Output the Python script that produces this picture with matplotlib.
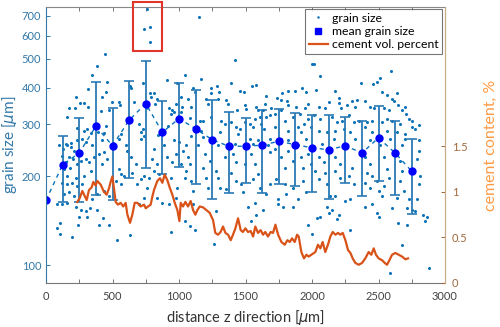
import matplotlib
matplotlib.use("Agg")
import matplotlib.pyplot as plt
from matplotlib.lines import Line2D
from matplotlib.patches import Rectangle
from matplotlib.ticker import FixedLocator, NullLocator, MultipleLocator

# grain size scatter (distance in um, grain size in um)
grain_z = [757, 739, 782, 782, 444, 1150, 1424, 2000, 2016, 2062,
           386, 343, 461, 316, 228, 256, 286, 173, 216, 318, 423, 449, 499, 549, 556, 474, 416, 156, 231, 286,
           311, 336, 393, 436, 449, 566, 629, 641, 662, 699, 732, 750, 782, 812, 787, 837, 820, 712, 737, 842,
           908, 925, 950, 938, 962, 917, 987, 975, 637, 732, 98, 148, 186, 235, 273, 298, 348, 423, 549, 599,
           511, 712, 887, 962, 1000,
           130, 160, 186, 211, 123, 173, 206, 148, 135, 180, 235, 261, 298, 323, 361, 399, 436, 461, 423, 336,
           286, 223, 160, 123, 156, 198, 231, 273, 135, 173, 211, 85, 123, 160, 223, 261, 298, 331, 248, 311,
           105, 80, 105, 198, 243, 399, 431, 474, 531, 386, 348, 386, 436, 474, 549, 562, 524, 566, 587, 611,
           637, 675, 649, 712, 687, 737, 762, 775, 812, 800, 837, 812, 850, 912, 950, 975, 938, 987, 975, 925,
           938, 632, 837, 875, 737, 699,
           1043, 1168, 1394, 1301, 1243, 1105, 1118, 1243, 1288, 1456, 1489, 1549, 1582, 1652, 1775, 1820, 1875, 1927, 1958, 1740,
           1765, 1815, 1820, 1883, 1946, 1970, 1018, 1068, 1088, 1023, 1018, 1081, 1156, 1181, 1130, 1168, 1206, 1218, 1294, 1356,
           1369, 1439, 1494, 1506, 1582, 1594, 1632, 1650, 1694, 1243, 1318, 1344, 1394, 1431, 1456, 1494, 1532, 1569, 1607, 1619,
           1657, 1682, 1720, 1770, 1795, 1857, 1908, 1940, 1970, 1995, 1557, 1639, 1720, 1820, 1895, 1920, 1306, 1444, 1532, 1594,
           1682, 1770, 1820, 1958, 1093, 1181, 1055, 1143, 1294, 1419, 1557, 1669, 1895,
           1030, 1068, 1018, 1081, 1055, 1043, 1093, 1105, 1105, 1043, 1081, 1118, 1193, 1231, 1181, 1206, 1281, 1294, 1306, 1218,
           1281, 1261, 1344, 1406, 1431, 1394, 1431, 1356, 1469, 1481, 1544, 1569, 1594, 1557, 1607, 1657, 1569, 1519, 1632, 1582,
           1544, 1682, 1720, 1770, 1795, 1820, 1857, 1920, 1933, 1970, 1995, 1732, 1795, 1807, 1857, 1895, 1933, 1958, 1745, 1857,
           1782, 1970, 1745, 1682, 1494,
           2597, 2030, 2171, 2371, 2459, 2489, 2514, 2527, 2564, 2640, 2602, 2615, 2126, 2201, 2201, 2301, 2339, 2401, 2050, 2013,
           2100, 2221, 2264, 2321, 2439, 2464, 2539, 2577, 2564, 2647, 2677, 2707, 2752, 2702, 2063, 2151, 2188, 2226, 2276, 2314,
           2352, 2414, 2452, 2527, 2602, 2665, 2727, 2752, 2803, 2778, 2050, 2113, 2176, 2239, 2289, 2401, 2452, 2564, 2640, 2702,
           2163, 2326, 2439, 2589, 2702, 2803, 2076, 2251, 2514, 2677,
           2050, 2088, 2025, 2100, 2050, 2113, 2176, 2214, 2176, 2214, 2276, 2301, 2314, 2176, 2138, 2251, 2289, 2113, 2151, 2126,
           2201, 2063, 2038, 2188, 2289, 2000, 2401, 2439, 2414, 2452, 2489, 2401, 2439, 2502, 2539, 2527, 2452, 2401, 2489, 2502,
           2539, 2564, 2577, 2665, 2677, 2665, 2690, 2640, 2602, 2727, 2715, 2752, 2778, 2803, 2790, 2815, 2803, 2790, 2833, 2865,
           2853, 2647, 2715, 2677, 2589, 2878]
grain_d = [737, 630, 642, 570, 520, 696, 494, 482, 480, 438,
           472, 442, 417, 394, 372, 355, 355, 340, 342, 344, 372, 385, 358, 358, 348, 335, 332, 318, 292, 286,
           290, 281, 282, 280, 297, 279, 404, 399, 358, 302, 413, 341, 382, 382, 372, 367, 353, 282, 275, 277,
           424, 340, 335, 326, 331, 297, 413, 353, 314, 290, 255, 258, 260, 265, 268, 262, 255, 265, 268, 255,
           255, 268, 255, 265, 262,
           248, 255, 251, 244, 235, 232, 229, 223, 212, 214, 220, 226, 229, 223, 232, 238, 241, 229, 220, 209,
           201, 198, 201, 190, 188, 190, 185, 188, 174, 177, 172, 161, 161, 163, 158, 154, 152, 156, 146, 146,
           139, 134, 128, 125, 137, 137, 144, 137, 122, 154, 167, 174, 179, 172, 212, 203, 193, 188, 201, 244,
           232, 220, 206, 196, 188, 201, 183, 198, 248, 229, 220, 209, 203, 232, 223, 238, 198, 183, 169, 161,
           130, 127, 169, 163, 169, 161,
           442, 429, 416, 387, 399, 399, 387, 382, 404, 389, 385, 404, 409, 375, 382, 389, 389, 397, 387, 369,
           362, 360, 348, 344, 340, 353, 372, 367, 344, 344, 331, 315, 309, 309, 297, 286, 367, 353, 367, 362,
           353, 335, 348, 337, 344, 335, 335, 353, 340, 317, 309, 302, 306, 294, 290, 306, 302, 314, 317, 302,
           317, 322, 326, 335, 309, 317, 326, 302, 314, 294, 294, 290, 294, 286, 294, 282, 282, 279, 268, 265,
           268, 268, 265, 268, 275, 272, 255, 255, 255, 258, 258, 255, 256,
           244, 232, 220, 220, 209, 198, 193, 179, 161, 141, 136, 132, 238, 226, 214, 198, 209, 198, 183, 183,
           152, 118, 232, 238, 223, 206, 193, 181, 188, 177, 238, 220, 203, 196, 183, 174, 163, 158, 154, 148,
           141, 241, 248, 232, 214, 244, 226, 232, 214, 238, 220, 196, 188, 174, 183, 167, 193, 177, 161, 158,
           158, 137, 167, 188, 220,
           456, 392, 389, 413, 410, 419, 430, 387, 378, 382, 367, 360, 358, 369, 355, 360, 362, 360, 344, 322,
           342, 340, 348, 344, 344, 340, 340, 335, 314, 348, 335, 326, 309, 344, 314, 317, 306, 309, 322, 306,
           309, 306, 309, 306, 309, 302, 314, 294, 299, 290, 286, 282, 286, 290, 282, 294, 282, 286, 282, 279,
           268, 268, 265, 268, 268, 265, 258, 255, 255, 256,
           232, 223, 209, 206, 196, 188, 232, 220, 209, 198, 201, 214, 188, 172, 172, 165, 167, 158, 154, 150,
           148, 146, 144, 143, 132, 128, 232, 220, 206, 201, 193, 190, 183, 179, 185, 172, 161, 158, 150, 146,
           232, 212, 198, 226, 209, 193, 179, 169, 156, 167, 156, 154, 152, 244, 229, 201, 188, 167, 148, 146,
           141, 139, 137, 117, 94, 98]

# mean grain size and standard deviation every 125 um
mean_z = [0, 125, 250, 375, 500, 625, 750, 875, 1000, 1125, 1250, 1375,
          1500, 1625, 1750, 1875, 2000, 2125, 2250, 2375, 2500, 2625, 2750]
mean_d = [166, 219, 240, 296, 254, 310, 353, 282, 314, 290, 266, 253,
          253, 255, 263, 256, 250, 246, 254, 240, 270, 240, 208]
std_d = [0, 55, 76, 123, 88, 112, 140, 78, 99, 102, 98, 78,
         63, 80, 74, 71, 73, 78, 64, 69, 77, 67, 59]

# cement volume percent (right axis)
cement_z = [235, 253, 273, 286, 306, 323, 343, 356, 373, 386, 411, 436, 456, 474, 486, 499, 511, 524, 541, 561,
            581, 599, 612, 632, 649, 667, 687, 712, 737, 750, 767, 787, 800, 812, 837, 857, 875, 892, 912, 932,
            950, 968, 988, 1003,
            1013, 1030, 1048, 1068, 1088, 1106, 1123, 1138, 1156, 1181, 1206, 1231, 1256, 1273, 1293, 1313, 1331, 1349, 1369, 1389,
            1406, 1424, 1444, 1464, 1481, 1499, 1519, 1539, 1557, 1574, 1594, 1614, 1632, 1649, 1669, 1689, 1707, 1725, 1745, 1770,
            1795, 1815, 1833, 1850, 1870, 1888, 1900, 1920, 1940, 1958, 1975, 1995,
            2025, 2045, 2063, 2080, 2100, 2120, 2138, 2156, 2176, 2196, 2213, 2231, 2251, 2271, 2289, 2306, 2326, 2351, 2376, 2401,
            2426, 2446, 2464, 2481, 2501, 2527, 2547, 2564, 2582, 2602, 2627, 2652, 2677, 2702, 2722]
cement_pct = [0.89, 0.93, 1.01, 0.97, 0.91, 1.02, 1.05, 1.11, 1.07, 1.12, 1.08, 1.00, 0.97, 1.04, 1.11, 1.17, 1.04, 0.89, 0.86, 0.88,
              0.84, 0.88, 0.75, 0.66, 0.75, 0.88, 0.88, 0.84, 0.86, 0.82, 0.84, 0.86, 0.95, 1.02, 1.12, 1.15, 1.10, 1.19, 1.13, 1.04,
              0.97, 0.88, 0.80, 0.68,
              0.88, 0.84, 0.89, 0.84, 0.90, 0.80, 0.75, 0.80, 0.84, 0.83, 0.80, 0.77, 0.69, 0.55, 0.53, 0.56, 0.62, 0.55, 0.53, 0.47,
              0.53, 0.60, 0.71, 0.58, 0.56, 0.60, 0.56, 0.57, 0.51, 0.62, 0.55, 0.58, 0.53, 0.56, 0.51, 0.56, 0.55, 0.64, 0.53, 0.45,
              0.42, 0.47, 0.45, 0.49, 0.45, 0.53, 0.51, 0.34, 0.27, 0.31, 0.29, 0.31,
              0.34, 0.42, 0.38, 0.45, 0.34, 0.42, 0.51, 0.56, 0.53, 0.55, 0.53, 0.55, 0.47, 0.36, 0.33, 0.27, 0.22, 0.20, 0.22, 0.27,
              0.34, 0.31, 0.38, 0.31, 0.27, 0.25, 0.22, 0.20, 0.25, 0.31, 0.33, 0.31, 0.29, 0.26, 0.27]

left_ticks = [100, 200, 300, 400, 500, 600, 700]
right_ticks = [0, 0.5, 1, 1.5]

plt.rcParams['font.family'] = ['Lato', 'DejaVu Sans']
plt.rcParams['mathtext.fontset'] = 'dejavusans'

blue = '#0a72b8'
left_col = '#3479a8'
right_col = '#a0683c'

fig = plt.figure(figsize=(5, 3.27), dpi=100)
ax = fig.add_axes([0.092, 0.1346, 0.798, 0.844])

ax.plot(grain_z, grain_d, linestyle='none', marker='o', ms=2.2, mec='none', mfc=blue)
ax.errorbar(mean_z[1:], mean_d[1:], yerr=std_d[1:], fmt='none', ecolor='#2b7ab5',
            elinewidth=1.3, capsize=3.8, capthick=1.2)
ax.plot(mean_z, mean_d, linestyle=(0, (3, 3)), color=blue, lw=1.0)
ax.plot(mean_z, mean_d, linestyle='none', marker='o', ms=5, color='#0000ff')

ax.set_yscale('log')
ax.set_ylim(87, 750)
ax.set_xlim(0, 3000)
ax.yaxis.set_major_locator(FixedLocator(left_ticks))
ax.yaxis.set_minor_locator(NullLocator())
ax.set_yticklabels([str(t) for t in left_ticks])
ax.xaxis.set_major_locator(MultipleLocator(500))
ax.xaxis.set_minor_locator(MultipleLocator(250))
ax.tick_params(axis='x', which='both', direction='in', top=True, length=3, width=0.7,
               labelsize=8, colors='#777777', pad=6)
ax.tick_params(axis='x', labelcolor='#444444')
ax.tick_params(axis='y', direction='in', length=3, width=0.7, labelsize=8,
               colors=left_col, right=False)
ax.set_xlabel(r'distance z direction [$\mu$m]', fontsize=10.5, color='#333333', labelpad=4)
ax.set_ylabel(r'grain size [$\mu$m]', fontsize=11, color=left_col, labelpad=2)
ax.spines['left'].set_color(left_col)
ax.spines['bottom'].set_color('#777777')
ax.spines['top'].set_color('#888888')
ax.spines['right'].set_color('#c9a888')

ax2 = ax.twinx()
ax2.plot(cement_z, cement_pct, color='#d95319', lw=1.6)
ax2.set_ylim(0, 3.03)
ax2.set_yticks(right_ticks)
ax2.set_yticklabels(['0', '0.5', '1', '1.5'])
ax2.tick_params(axis='y', direction='in', length=3, width=0.7, labelsize=8,
                colors=right_col, pad=5)
ax2.set_ylabel('cement content, %', fontsize=11.5, color='#ff9b45', labelpad=12)
ax2.spines['right'].set_color('#c9a888')
for s in ['left', 'top', 'bottom']:
    ax2.spines[s].set_visible(False)

# red box around the outliers
box = Rectangle((655, 530), 215, 250, fill=False, ec='#e0352b', lw=1.5,
                transform=ax.transData, clip_on=False, zorder=10)
ax.add_patch(box)

handles = [Line2D([], [], linestyle='none', marker='o', ms=1.8, mec='none', mfc=blue),
           Line2D([], [], linestyle='none', marker='s', ms=4.5, color='#0000ff'),
           Line2D([], [], color='#d95319', lw=1.6)]
labels = ['grain size', 'mean grain size', 'cement vol. percent']
leg = ax2.legend(handles, labels, loc='upper right', bbox_to_anchor=(0.993, 0.993),
                 fontsize=8.8, frameon=True, fancybox=False, edgecolor='#555555',
                 handlelength=1.6, handletextpad=0.3, borderpad=0.3, labelspacing=0.2,
                 borderaxespad=0.0)
leg.get_frame().set_linewidth(0.8)

fig.savefig('out.png', dpi=100)
